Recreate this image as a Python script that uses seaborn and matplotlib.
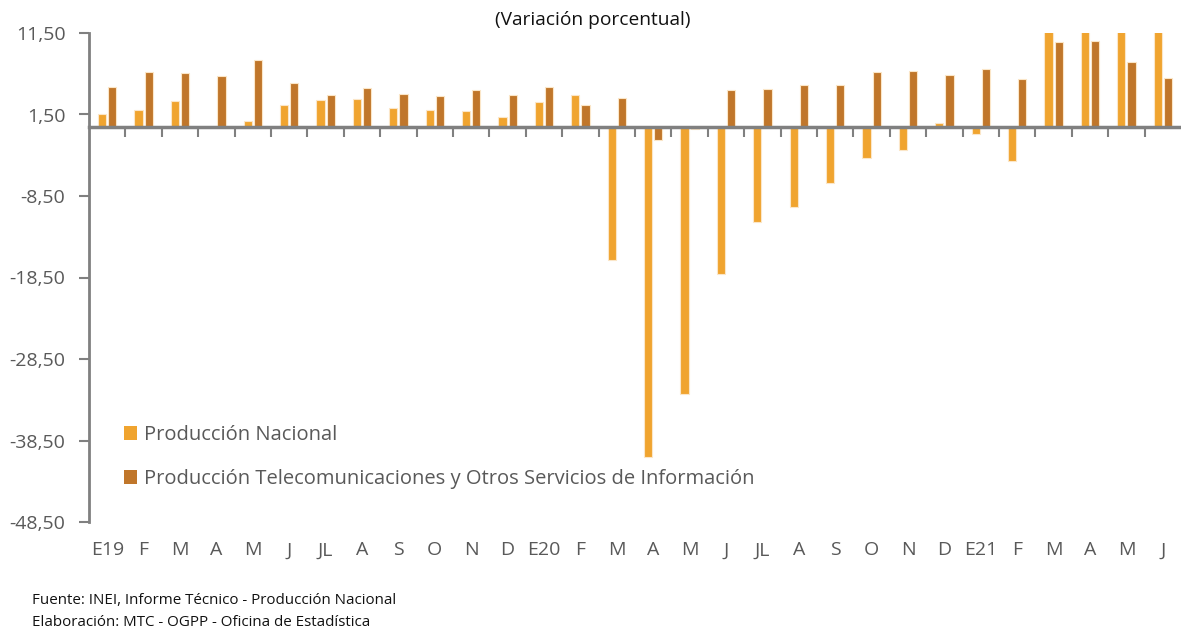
import matplotlib
matplotlib.use("Agg")
import matplotlib.pyplot as plt
import seaborn as sns
import pandas as pd
import numpy as np

categories = ["E19", "F", "M", "A", "M", "J", "JL", "A", "S", "O", "N", "D",
              "E20", "F", "M", "A", "M", "J", "JL", "A", "S", "O", "N", "D",
              "E21", "F", "M", "A", "M", "J"]
prod_nacional = [1.55, 2.1, 3.2, 0.0, 0.65, 2.65, 3.3, 3.45, 2.25, 2.1, 1.9, 1.15,
                 3.0, 3.85, -16.3, -40.5, -32.8, -18.1, -11.75, -9.8, -6.95, -3.8, -2.8, 0.5,
                 -0.95, -4.2, 18.2, 58.7, 48.2, 22.0]
prod_telecom = [4.9, 6.7, 6.65, 6.2, 8.15, 5.35, 3.9, 4.8, 4.05, 3.8, 4.5, 3.85,
                4.85, 2.65, 3.5, -1.6, -0.3, 4.45, 4.6, 5.15, 5.15, 6.7, 6.8, 6.35,
                7.05, 5.85, 10.35, 10.5, 8.0, 6.0]
series_names = ["Producción Nacional",
                "Producción Telecomunicaciones y Otros Servicios de Información"]
yticks = [11.5, 1.5, -8.5, -18.5, -28.5, -38.5, -48.5]

sns.set_style("white")
plt.rcParams['font.family'] = ['Open Sans', 'DejaVu Sans']

idx = list(range(len(categories)))
df = pd.DataFrame({
    "pos": idx * 2,
    "valor": prod_nacional + prod_telecom,
    "serie": [series_names[0]] * len(idx) + [series_names[1]] * len(idx),
})

fig = plt.figure(figsize=(11.81, 6.31), dpi=100)
ax = fig.add_axes([89 / 1181, 1 - 522 / 631, 1 - 89 / 1181, (522 - 33) / 631])

palette = {series_names[0]: "#F0A42F", series_names[1]: "#C0762A"}
sns.barplot(data=df, x="pos", y="valor", hue="serie", palette=palette,
            width=0.56, gap=0.2, saturation=1, ax=ax,
            edgecolor="#FBE6C8", linewidth=0.8, order=idx, hue_order=series_names)

ax.set_ylim(-48.5, 11.5)
ax.set_xlim(-0.5, len(idx) - 0.5)
ax.set_yticks(yticks)
ax.set_yticklabels([f"{v:.2f}".replace(".", ",") for v in yticks])
ax.set_xlabel("")
ax.set_ylabel("")

spine_c = "#808080"
for s in ["top", "right"]:
    ax.spines[s].set_visible(False)
ax.spines["left"].set_color(spine_c)
ax.spines["left"].set_linewidth(2)
ax.spines["bottom"].set_position(("data", 0))
ax.spines["bottom"].set_color(spine_c)
ax.spines["bottom"].set_linewidth(2.5)
ax.spines["bottom"].set_zorder(5)

ax.tick_params(axis="y", direction="out", length=7, width=1.5, color=spine_c,
               labelsize=14, labelcolor="#595959", pad=10, left=True)
ax.set_xticks([i + 0.5 for i in idx[:-1]])
ax.set_xticklabels([])
ax.tick_params(axis="x", direction="out", length=7, width=1.5, color=spine_c, bottom=True)

sec = ax.secondary_xaxis("bottom")
sec.set_xticks(idx)
sec.set_xticklabels(categories)
sec.tick_params(length=0, labelsize=14, labelcolor="#595959", pad=14)
sec.spines["bottom"].set_visible(False)

handles, labels = ax.get_legend_handles_labels()
for h in handles:
    h.set_edgecolor("none")
ax.legend(handles, labels, loc="upper left", bbox_to_anchor=(124 / 1181, 1 - 425 / 631),
          bbox_transform=fig.transFigure, frameon=False, fontsize=14.5,
          handlelength=0.65, handleheight=0.65, handletextpad=0.35, labelspacing=1.2,
          borderpad=0, borderaxespad=0, labelcolor="#595959")

fig.text(593 / 1181, 1 - 20 / 631, "(Variación porcentual)", ha="center", va="center",
         fontsize=13.8, color="#111111")
fig.text(32 / 1181, 1 - 600 / 631, "Fuente: INEI, Informe Técnico - Producción Nacional",
         ha="left", va="center", fontsize=10.9, color="#111111")
fig.text(32 / 1181, 1 - 622 / 631, "Elaboración: MTC - OGPP - Oficina de Estadística",
         ha="left", va="center", fontsize=10.9, color="#111111")

fig.savefig("out.png", dpi=100)
